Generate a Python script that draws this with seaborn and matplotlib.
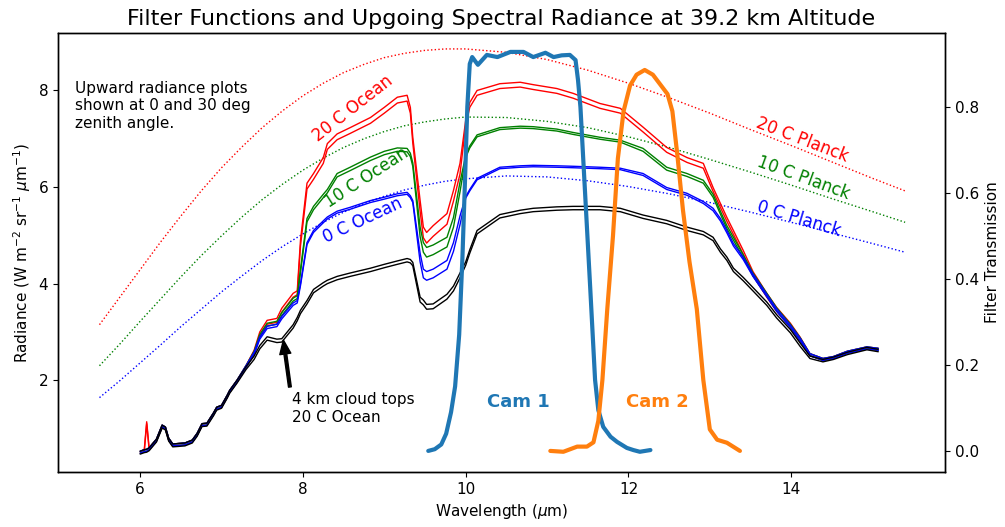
import matplotlib
matplotlib.use("Agg")
import matplotlib.pyplot as plt
import pandas as pd
import seaborn as sns

# ---------------- data ----------------
wl = [6.00, 6.05, 6.08, 6.11, 6.20, 6.27, 6.31, 6.35, 6.40, 6.55,
      6.64, 6.70, 6.76, 6.82, 6.90, 6.94, 7.00, 7.07, 7.10, 7.19,
      7.30, 7.40, 7.47, 7.56, 7.68, 7.74, 7.88, 7.93, 7.97, 8.05,
      8.13, 8.25, 8.30, 8.42, 8.58, 8.83, 9.00, 9.16, 9.28, 9.32,
      9.35, 9.44, 9.48, 9.52, 9.60, 9.77, 9.85, 9.93, 10.00, 10.05,
      10.14, 10.42, 10.67, 10.83, 11.12, 11.32, 11.65, 11.90, 12.18, 12.47,
      12.72, 12.92, 13.04, 13.13, 13.21, 13.29, 13.41, 13.53, 13.70, 13.82,
      13.99, 14.11, 14.23, 14.39, 14.52, 14.69, 14.93, 15.07]

ocean20_0 = [0.53, 0.56, 1.14, 0.60, 0.78, 1.07, 1.03, 0.80, 0.68, 0.70,
             0.76, 0.90, 1.10, 1.11, 1.32, 1.44, 1.48, 1.69, 1.79, 2.00,
             2.30, 2.62, 3.00, 3.24, 3.28, 3.49, 3.80, 3.85, 4.90, 6.08,
             6.28, 6.61, 6.90, 7.10, 7.23, 7.44, 7.65, 7.86, 7.90, 7.65,
             7.03, 5.72, 5.17, 5.06, 5.20, 5.45, 5.93, 6.49, 7.38, 7.75,
             8.00, 8.14, 8.17, 8.12, 8.04, 7.94, 7.73, 7.63, 7.24, 6.82,
             6.61, 6.49, 5.99, 5.66, 5.37, 5.10, 4.69, 4.25, 3.80, 3.51,
             3.18, 2.89, 2.55, 2.45, 2.49, 2.60, 2.69, 2.66]
ocean20_30 = [0.49, 0.52, 1.10, 0.56, 0.74, 1.03, 0.99, 0.76, 0.64, 0.66,
              0.72, 0.86, 1.06, 1.07, 1.28, 1.40, 1.44, 1.65, 1.75, 1.96,
              2.26, 2.54, 2.92, 3.16, 3.20, 3.41, 3.72, 3.77, 4.78, 5.96,
              6.16, 6.49, 6.78, 6.98, 7.11, 7.32, 7.53, 7.74, 7.78, 7.53,
              6.91, 5.50, 4.95, 4.84, 4.98, 5.23, 5.71, 6.27, 7.28, 7.65,
              7.90, 8.04, 8.07, 8.02, 7.94, 7.84, 7.63, 7.53, 7.14, 6.72,
              6.51, 6.39, 5.91, 5.58, 5.29, 5.02, 4.61, 4.17, 3.72, 3.43,
              3.10, 2.81, 2.51, 2.41, 2.45, 2.56, 2.65, 2.62]
ocean10_0 = [0.53, 0.56, 0.57, 0.60, 0.78, 1.07, 1.03, 0.80, 0.68, 0.70,
             0.76, 0.90, 1.10, 1.11, 1.32, 1.44, 1.48, 1.69, 1.79, 2.00,
             2.30, 2.60, 2.95, 3.18, 3.22, 3.40, 3.70, 3.75, 4.30, 5.35,
             5.60, 5.85, 5.95, 6.28, 6.41, 6.62, 6.74, 6.81, 6.80, 6.70,
             6.50, 5.17, 4.85, 4.75, 4.80, 4.96, 5.37, 6.10, 6.65, 6.85,
             7.08, 7.23, 7.26, 7.25, 7.20, 7.13, 7.03, 6.97, 6.80, 6.41,
             6.28, 6.14, 5.85, 5.50, 5.20, 4.96, 4.60, 4.22, 3.80, 3.50,
             3.16, 2.88, 2.55, 2.45, 2.49, 2.60, 2.69, 2.66]
ocean10_30 = [0.49, 0.52, 0.53, 0.56, 0.74, 1.03, 0.99, 0.76, 0.64, 0.66,
              0.72, 0.86, 1.06, 1.07, 1.28, 1.40, 1.44, 1.65, 1.75, 1.96,
              2.26, 2.54, 2.89, 3.12, 3.16, 3.34, 3.64, 3.69, 4.23, 5.28,
              5.53, 5.78, 5.88, 6.21, 6.34, 6.55, 6.67, 6.74, 6.73, 6.63,
              6.43, 4.97, 4.65, 4.55, 4.60, 4.76, 5.17, 5.90, 6.61, 6.81,
              7.04, 7.19, 7.22, 7.21, 7.16, 7.09, 6.99, 6.93, 6.74, 6.35,
              6.22, 6.08, 5.79, 5.44, 5.14, 4.90, 4.54, 4.16, 3.74, 3.44,
              3.10, 2.82, 2.51, 2.41, 2.45, 2.56, 2.65, 2.62]
ocean0_0 = [0.53, 0.56, 0.57, 0.60, 0.78, 1.07, 1.03, 0.80, 0.68, 0.70,
            0.76, 0.90, 1.10, 1.11, 1.32, 1.44, 1.48, 1.69, 1.79, 2.00,
            2.30, 2.58, 2.90, 3.12, 3.16, 3.32, 3.60, 3.65, 4.00, 4.85,
            5.10, 5.30, 5.38, 5.50, 5.58, 5.72, 5.79, 5.86, 5.89, 5.82,
            5.72, 4.63, 4.30, 4.25, 4.30, 4.48, 4.85, 5.40, 5.80, 5.95,
            6.18, 6.41, 6.44, 6.45, 6.44, 6.43, 6.41, 6.39, 6.28, 5.99,
            5.87, 5.70, 5.56, 5.35, 5.10, 4.83, 4.55, 4.20, 3.78, 3.48,
            3.14, 2.87, 2.55, 2.45, 2.49, 2.60, 2.69, 2.66]
ocean0_30 = [0.49, 0.52, 0.53, 0.56, 0.74, 1.03, 0.99, 0.76, 0.64, 0.66,
             0.72, 0.86, 1.06, 1.07, 1.28, 1.40, 1.44, 1.65, 1.75, 1.96,
             2.26, 2.53, 2.85, 3.07, 3.11, 3.27, 3.55, 3.60, 3.96, 4.81,
             5.06, 5.26, 5.34, 5.46, 5.54, 5.68, 5.75, 5.82, 5.85, 5.78,
             5.68, 4.45, 4.12, 4.07, 4.12, 4.30, 4.67, 5.22, 5.77, 5.92,
             6.15, 6.38, 6.41, 6.42, 6.41, 6.40, 6.38, 6.36, 6.24, 5.95,
             5.83, 5.66, 5.51, 5.30, 5.05, 4.78, 4.50, 4.15, 3.73, 3.43,
             3.09, 2.82, 2.51, 2.41, 2.45, 2.56, 2.65, 2.62]
cloud_0 = [0.53, 0.56, 0.57, 0.60, 0.78, 1.07, 1.03, 0.80, 0.68, 0.70,
           0.76, 0.90, 1.10, 1.11, 1.32, 1.44, 1.48, 1.69, 1.79, 2.00,
           2.28, 2.50, 2.72, 2.90, 2.85, 2.86, 3.15, 3.30, 3.45, 3.65,
           3.88, 4.02, 4.07, 4.15, 4.22, 4.32, 4.40, 4.47, 4.52, 4.50,
           4.44, 3.72, 3.66, 3.57, 3.58, 3.78, 3.95, 4.22, 4.45, 4.70,
           5.10, 5.43, 5.52, 5.56, 5.59, 5.60, 5.60, 5.56, 5.42, 5.31,
           5.17, 5.08, 4.96, 4.72, 4.55, 4.32, 4.13, 3.92, 3.62, 3.36,
           3.05, 2.77, 2.50, 2.43, 2.48, 2.58, 2.68, 2.64]
cloud_30 = [0.47, 0.50, 0.51, 0.54, 0.72, 1.01, 0.97, 0.74, 0.62, 0.64,
            0.70, 0.84, 1.04, 1.05, 1.26, 1.38, 1.42, 1.63, 1.73, 1.94,
            2.22, 2.43, 2.65, 2.83, 2.78, 2.79, 3.08, 3.23, 3.38, 3.58,
            3.81, 3.95, 4.00, 4.08, 4.15, 4.25, 4.33, 4.40, 4.45, 4.43,
            4.37, 3.62, 3.56, 3.47, 3.48, 3.68, 3.85, 4.12, 4.38, 4.63,
            5.03, 5.36, 5.45, 5.49, 5.52, 5.53, 5.53, 5.49, 5.35, 5.24,
            5.10, 5.01, 4.89, 4.65, 4.48, 4.25, 4.06, 3.85, 3.55, 3.29,
            2.98, 2.70, 2.45, 2.38, 2.43, 2.53, 2.63, 2.59]

planck_wl = [5.5, 5.75, 6.0, 6.25, 6.5, 6.75, 7.0, 7.25, 7.5, 7.75,
             8.0, 8.25, 8.5, 8.75, 9.0, 9.25, 9.5, 9.75, 10.0, 10.5,
             11.0, 11.5, 12.0, 12.5, 13.0, 13.5, 14.0, 14.5, 15.0, 15.4]
planck20 = [3.15, 3.72, 4.29, 4.86, 5.40, 5.92, 6.40, 6.83, 7.23, 7.58,
            7.89, 8.15, 8.37, 8.54, 8.68, 8.77, 8.83, 8.86, 8.86, 8.79,
            8.64, 8.42, 8.15, 7.85, 7.53, 7.19, 6.86, 6.52, 6.18, 5.92]
planck10 = [2.30, 2.75, 3.22, 3.68, 4.14, 4.58, 4.99, 5.38, 5.74, 6.06,
            6.35, 6.60, 6.82, 7.00, 7.15, 7.27, 7.35, 7.41, 7.45, 7.44,
            7.36, 7.23, 7.04, 6.82, 6.57, 6.31, 6.04, 5.76, 5.49, 5.27]
planck0 = [1.64, 1.99, 2.36, 2.73, 3.11, 3.47, 3.83, 4.16, 4.48, 4.77,
           5.03, 5.27, 5.48, 5.66, 5.81, 5.94, 6.04, 6.12, 6.17, 6.23,
           6.21, 6.13, 6.01, 5.86, 5.68, 5.48, 5.27, 5.05, 4.83, 4.65]

cam1_wl = [9.54, 9.62, 9.70, 9.76, 9.82, 9.87, 9.92, 9.96, 9.99, 10.02,
           10.05, 10.08, 10.15, 10.26, 10.39, 10.55, 10.71, 10.83, 10.98, 11.08,
           11.18, 11.28, 11.35, 11.38, 11.41, 11.47, 11.53, 11.59, 11.63, 11.69,
           11.78, 11.86, 11.98, 12.06, 12.14, 12.27]
cam1_tr = [0.0, 0.004, 0.015, 0.04, 0.09, 0.15, 0.27, 0.45, 0.62, 0.80,
           0.90, 0.916, 0.898, 0.921, 0.916, 0.928, 0.928, 0.916, 0.926, 0.916,
           0.92, 0.921, 0.909, 0.863, 0.80, 0.59, 0.38, 0.165, 0.095, 0.056,
           0.033, 0.021, 0.007, 0.002, -0.002, 0.002]
cam2_wl = [11.04, 11.20, 11.37, 11.49, 11.57, 11.63, 11.68, 11.74, 11.81, 11.87,
           11.94, 12.02, 12.10, 12.20, 12.30, 12.40, 12.48, 12.54, 12.60, 12.67,
           12.75, 12.84, 12.92, 13.00, 13.09, 13.21, 13.37]
cam2_tr = [0.0, -0.002, 0.01, 0.01, 0.02, 0.07, 0.165, 0.33, 0.50, 0.68,
           0.79, 0.85, 0.875, 0.886, 0.875, 0.85, 0.83, 0.79, 0.69, 0.56,
           0.44, 0.33, 0.165, 0.05, 0.026, 0.019, 0.0]

# ---------------- build tables ----------------
n = len(wl)
cases = ["20 C Ocean", "10 C Ocean", "0 C Ocean", "4 km cloud"]
series = [(ocean20_0, ocean20_30), (ocean10_0, ocean10_30),
          (ocean0_0, ocean0_30), (cloud_0, cloud_30)]
rows = []
for case, (s0, s30) in zip(cases, series):
    assert len(s0) == n and len(s30) == n
    for w, v in zip(wl, s0):
        rows.append((case, 0, w, v))
    for w, v in zip(wl, s30):
        rows.append((case, 30, w, v))
ocean = pd.DataFrame(rows, columns=["case", "zenith", "wavelength", "radiance"])
ocean_pal = {"20 C Ocean": "red", "10 C Ocean": "green",
             "0 C Ocean": "blue", "4 km cloud": "black"}

npl = len(planck_wl)
planck = pd.DataFrame({
    "wavelength": planck_wl * 3,
    "radiance": planck20 + planck10 + planck0,
    "T": ["20"] * npl + ["10"] * npl + ["0"] * npl,
})
planck_pal = {"20": "red", "10": "green", "0": "blue"}

filt = pd.DataFrame({
    "wavelength": cam1_wl + cam2_wl,
    "trans": cam1_tr + cam2_tr,
    "cam": ["Cam 1"] * len(cam1_wl) + ["Cam 2"] * len(cam2_wl),
})
cam_pal = {"Cam 1": "#1f77b4", "Cam 2": "#ff7f0e"}

# ---------------- plot ----------------
sns.set_style("ticks")
plt.rcParams.update({
    "font.family": ["DejaVu Sans"],
    "text.color": "black", "axes.labelcolor": "black",
    "axes.edgecolor": "black", "xtick.color": "black", "ytick.color": "black",
    "axes.linewidth": 1.0, "xtick.major.size": 3.5, "ytick.major.size": 3.5,
})

fig = plt.figure(figsize=(10.05, 5.27), dpi=100)
ax = fig.add_axes([0.0577, 0.1044, 0.8826, 0.833])

sns.lineplot(data=planck, x="wavelength", y="radiance", hue="T",
             hue_order=["20", "10", "0"], palette=planck_pal,
             linestyle=":", lw=1.0, legend=False, sort=False, ax=ax)
sns.lineplot(data=ocean, x="wavelength", y="radiance", hue="case",
             hue_order=cases, palette=ocean_pal, units="zenith",
             estimator=None, lw=1.0, legend=False, sort=False, ax=ax)

ax.set_xlim(4.99, 15.89)
ax.set_ylim(0.10, 9.19)
ax.set_xticks([6, 8, 10, 12, 14])
ax.set_yticks([2, 4, 6, 8])
ax.tick_params(labelsize=11)
ax.set_ylabel(r"Radiance (W m$^{-2}$ sr$^{-1}$ $\mu$m$^{-1}$)", fontsize=11)
ax.set_title("Filter Functions and Upgoing Spectral Radiance at 39.2 km Altitude",
             fontsize=16)

ax2 = ax.twinx()
sns.lineplot(data=filt, x="wavelength", y="trans", hue="cam", palette=cam_pal,
             lw=3, legend=False, sort=False, ax=ax2)
ax2.set_ylim(-0.049, 0.972)
ax2.set_yticks([0.0, 0.2, 0.4, 0.6, 0.8])
ax2.tick_params(labelsize=11)
ax2.set_ylabel("Filter Transmission", fontsize=11)
ax2.set_xlabel("")
ax.set_xlabel(r"Wavelength ($\mu$m)", fontsize=11)

# annotations
ax.text(5.2, 8.20, "Upward radiance plots\nshown at 0 and 30 deg\nzenith angle.",
        fontsize=11, ha="left", va="top")
ax.text(8.61, 7.63, "20 C Ocean", color="red", fontsize=12, rotation=38,
        ha="center", va="center", rotation_mode="anchor")
ax.text(8.78, 6.19, "10 C Ocean", color="green", fontsize=12, rotation=33,
        ha="center", va="center", rotation_mode="anchor")
ax.text(8.73, 5.31, "0 C Ocean", color="blue", fontsize=12, rotation=25,
        ha="center", va="center", rotation_mode="anchor")
ax.text(14.14, 6.97, "20 C Planck", color="red", fontsize=12, rotation=-21,
        ha="center", va="center", rotation_mode="anchor")
ax.text(14.15, 6.18, "10 C Planck", color="green", fontsize=12, rotation=-20,
        ha="center", va="center", rotation_mode="anchor")
ax.text(14.10, 5.35, "0 C Planck", color="blue", fontsize=12, rotation=-17,
        ha="center", va="center", rotation_mode="anchor")
ax.text(7.87, 1.75, "4 km cloud tops\n20 C Ocean", fontsize=11, ha="left", va="top")
ax.annotate("", xy=(7.76, 2.83), xytext=(7.84, 1.86),
            arrowprops=dict(facecolor="black", edgecolor="black", width=2,
                            headwidth=8, headlength=10, shrink=0))
ax2.text(10.65, 0.114, "Cam 1", color="#1f77b4", fontsize=13, fontweight="bold",
         ha="center", va="center")
ax2.text(12.35, 0.114, "Cam 2", color="#ff7f0e", fontsize=13, fontweight="bold",
         ha="center", va="center")

fig.savefig("out.png", dpi=100)
